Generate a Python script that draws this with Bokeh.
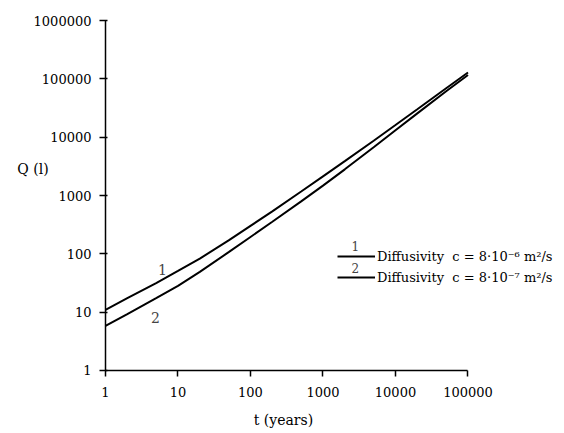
from bokeh.plotting import figure
from bokeh.models import Range1d, FixedTicker, Label, Legend, LegendItem
from bokeh.embed import file_html
from bokeh.resources import INLINE

# ---- data ----
t_years = [1, 2, 5, 10, 20, 50, 100, 200, 500, 1000, 2000, 5000, 10000, 20000, 50000, 100000]
q_curve1 = [11, 17.4, 31.6, 51, 83, 170, 302, 537, 1175, 2140, 3890, 8710, 16200, 30200, 69200, 129000]
q_curve2 = [5.8, 9.3, 17.4, 28.2, 49, 107, 195, 355, 794, 1480, 2820, 6760, 13200, 25700, 61700, 117000]

x_ticks = [1, 10, 100, 1000, 10000, 100000]
x_tick_labels = ["1", "10", "100", "1000", "10000", "100000"]
y_ticks = [1, 10, 100, 1000, 10000, 100000, 1000000]
y_tick_labels = ["1", "10", "100", "1000", "10000", "100000", "1000000"]

legend_labels = ["Diffusivity  c = 8·10⁻⁶ m²/s", "Diffusivity  c = 8·10⁻⁷ m²/s"]
curve_names = ["1", "2"]
x_title = "t (years)"
y_title = "Q (l)"

FONT = "DejaVu Serif"

# frame covers the whole canvas; axes are pinned at t=1 and Q=1 and bounded
p = figure(width=564, height=433, x_axis_type="log", y_axis_type="log",
           x_range=Range1d(10 ** -1.448, 10 ** 6.331),
           y_range=Range1d(10 ** -1.081, 10 ** 6.346),
           output_backend="svg", toolbar_location=None,
           min_border_left=0, min_border_right=0,
           min_border_top=0, min_border_bottom=0)
p.outline_line_color = None
p.xgrid.visible = False
p.ygrid.visible = False
p.background_fill_color = "white"
p.border_fill_color = "white"

r1 = p.line(t_years, q_curve1, line_color="black", line_width=2)
r2 = p.line(t_years, q_curve2, line_color="black", line_width=2)

for ax, ticks, labels in ((p.xaxis[0], x_ticks, x_tick_labels), (p.yaxis[0], y_ticks, y_tick_labels)):
    ax.ticker = FixedTicker(ticks=ticks, minor_ticks=[])
    ax.major_label_overrides = {tk: lb for tk, lb in zip(ticks, labels)}
    ax.major_label_text_font = FONT
    ax.major_label_text_font_size = "13px"
    ax.major_label_text_color = "black"
    ax.axis_line_color = "black"
    ax.axis_line_width = 1.5
    ax.major_tick_line_color = "black"
    ax.major_tick_line_width = 1.5
    ax.minor_tick_line_color = None
    ax.fixed_location = 1
    ax.bounds = (ticks[0], ticks[-1])

p.xaxis.major_tick_in = 0
p.xaxis.major_tick_out = 6
p.xaxis.major_label_standoff = 11
p.yaxis.major_tick_in = 2
p.yaxis.major_tick_out = 6
p.yaxis.major_label_standoff = 8

# axis titles
p.add_layout(Label(x=0.1, y=2900, text=y_title, text_font=FONT, text_font_size="14px",
                   text_align="center", text_baseline="middle", text_color="black"))
p.add_layout(Label(x=285, y=0.14, text=x_title, text_font=FONT, text_font_size="14px",
                   text_align="center", text_baseline="middle", text_color="black"))

# curve numbers
p.add_layout(Label(x=6.1, y=54, text=curve_names[0], text_font=FONT, text_font_size="14px",
                   text_align="center", text_baseline="middle"))
p.add_layout(Label(x=4.9, y=8.1, text=curve_names[1], text_font=FONT, text_font_size="14px",
                   text_align="center", text_baseline="middle"))

# legend numbers above legend lines
p.add_layout(Label(x=2800, y=139, text=curve_names[0], text_font=FONT, text_font_size="12px",
                   text_align="center", text_baseline="middle"))
p.add_layout(Label(x=2800, y=58, text=curve_names[1], text_font=FONT, text_font_size="12px",
                   text_align="center", text_baseline="middle"))

legend = Legend(items=[LegendItem(label=legend_labels[0], renderers=[r1]),
                       LegendItem(label=legend_labels[1], renderers=[r2])],
                location=(337, 148), orientation="vertical",
                background_fill_alpha=0, border_line_color=None,
                padding=0, margin=0, spacing=5, glyph_width=38, glyph_height=16,
                label_height=16, label_standoff=2,
                label_text_font=FONT, label_text_font_size="13px", label_text_color="black")
p.add_layout(legend)

open("out.html", "w").write(file_html(p, INLINE))
